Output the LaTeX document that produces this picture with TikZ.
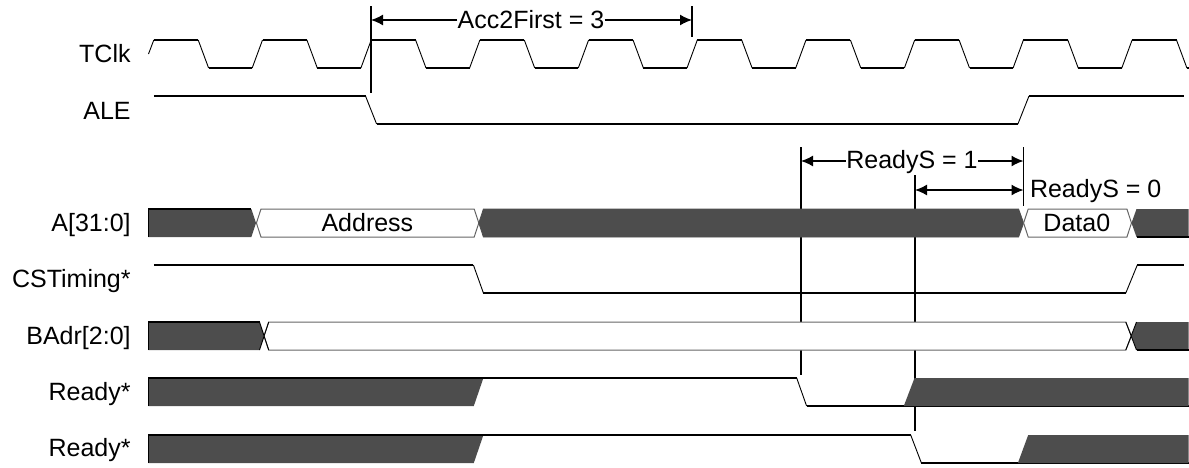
\documentclass[tikz,border=0pt]{standalone}
\usepackage{fontspec}
\setmainfont{Liberation Sans}
\usetikzlibrary{arrows.meta}

\definecolor{busdark}{HTML}{4D4D4D}
\tikzset{
  siglabel/.style={anchor=base east,inner sep=0pt,font=\fontsize{12.5}{15}\selectfont},
  dimlabel/.style={anchor=base,inner sep=0pt,font=\fontsize{12.5}{15}\selectfont},
  sigline/.style={line width=.8pt,line join=miter},
  edgeline/.style={line width=.45pt},
  markline/.style={line width=.8pt},
  dimarrow/.style={line width=.7pt,-{Latex[length=6pt,width=5.5pt]}},
  dimboth/.style={line width=.7pt,{Latex[length=6pt,width=5.5pt]}-{Latex[length=6pt,width=5.5pt]}},
  busdarkbox/.style={fill=busdark,draw=busdark,line width=.4pt},
  buswhite/.style={fill=white,draw=black!60,line width=.5pt}
}

\begin{document}
\begin{tikzpicture}[x=.5pt,y=-.5pt]
  \useasboundingbox (0,0) rectangle (1189,467);

  % signal names
  \node[siglabel] (tclk)  at (131,62.3)  {TClk};
  \node[siglabel] (ale)   at (131,119.3) {ALE};
  \node[siglabel] (addr)  at (131,231.7) {A[31:0]};
  \node[siglabel] (cst)   at (131,287.3) {CSTiming*};
  \node[siglabel] (badr)  at (131,344)   {BAdr[2:0]};
  \node[siglabel] (rdya)  at (131,400)   {Ready*};
  \node[siglabel] (rdyb)  at (131,456.7) {Ready*};

  % marker lines go under the buses
  \coordinate (m1t) at (371,6);     \coordinate (m1b) at (371,92.5);
  \coordinate (m2t) at (692,6);     \coordinate (m2b) at (692,36.5);
  \coordinate (m3t) at (801,147);   \coordinate (m3b) at (801,375);
  \coordinate (m4t) at (915,175);   \coordinate (m4b) at (915,431);
  \coordinate (m5t) at (1023.5,147);\coordinate (m5b) at (1023.5,206);
  \foreach \m in {1,...,5}
    \draw[markline] (m\m t) -- (m\m b);

  % TClk
  \draw[edgeline] (148.5,54) -- (153.8,40);
  \foreach \k in {0,...,9}
    {
      \pgfmathsetmacro{\xa}{153.8+108.7*\k}
      \draw[sigline] (\xa,40) -- (\xa+44.4,40);
      \draw[edgeline] (\xa+44.4,40) -- (\xa+54.8,68);
      \draw[sigline] (\xa+54.8,68) -- (\xa+98.4,68);
      \ifnum\k<9
        \draw[edgeline] (\xa+98.4,68) -- (\xa+108.7,40);
      \fi
    }

  % ALE
  \draw[sigline] (153.8,96) -- (365.5,96);
  \draw[edgeline] (365.5,96) -- (376.6,124);
  \draw[sigline] (376.6,124) -- (1017.9,124);
  \draw[edgeline] (1017.9,124) -- (1029,96);
  \draw[sigline] (1029,96) -- (1184,96);

  % A[31:0]
  \fill[busdark] (148.5,209) -- (251.4,209) -- (256,223) -- (251.4,237) -- (148.5,237) -- cycle;
  \draw[line width=.75pt] (148.5,237) -- (148.5,209) -- (251.4,209);
  \draw[buswhite] (261,209) -- (474.2,209) -- (478.8,223) -- (474.2,237) -- (261,237) -- (256.4,223) -- cycle;
  \node[dimlabel] (addrval) at (367.4,231.7) {Address};
  \draw[busdarkbox] (483.4,209) -- (1018.6,209) -- (1023.6,223) -- (1018.6,237) -- (483.4,237) -- (478.8,223) -- cycle;
  \draw[buswhite] (1028.2,209) -- (1126.9,209) -- (1131.5,223) -- (1126.9,237) -- (1028.2,237) -- (1023.6,223) -- cycle;
  \node[dimlabel] (dataval) at (1076.8,231.7) {Data0};
  \fill[busdark] (1136.5,209) -- (1188.5,209) -- (1188.5,237) -- (1136.5,237) -- (1131.5,223) -- cycle;
  \draw[sigline] (1136.5,237) -- (1188.5,237);

  % CSTiming*
  \draw[sigline] (153.8,265) -- (473.4,265);
  \draw[edgeline] (473.4,265) -- (483.4,293);
  \draw[sigline] (483.4,293) -- (1125.8,293);
  \draw[edgeline] (1125.8,293) -- (1137.3,265);
  \draw[sigline] (1137.3,265) -- (1184,265);

  % BAdr[2:0]
  \fill[busdark] (148.5,322) -- (259.5,322) -- (264,336) -- (259.5,350) -- (148.5,350) -- cycle;
  \draw[line width=.75pt] (148.5,350) -- (148.5,322) -- (259.5,322);
  \draw[buswhite] (268.7,322) -- (1125.8,322) -- (1131.5,336) -- (1125.8,350) -- (268.7,350) -- (264,336) -- cycle;
  \draw[edgeline] (259.5,322) -- (268.7,350) (259.5,350) -- (268.7,322);
  \fill[busdark] (1136.5,322) -- (1188.5,322) -- (1188.5,350) -- (1136.5,350) -- (1131.5,336) -- cycle;
  \draw[edgeline] (1125.8,322) -- (1136.5,350) (1125.8,350) -- (1136.5,322);
  \draw[sigline] (1136.5,350) -- (1188.5,350);

  % Ready*
  \fill[busdark] (148.5,378) -- (483.4,378) -- (473.8,406) -- (148.5,406) -- cycle;
  \draw[line width=.75pt] (148.5,406) -- (148.5,378) -- (796.7,378);
  \draw[edgeline] (796.7,378) -- (806.6,406);
  \draw[sigline] (806.6,406) -- (1188.5,406);
  \fill[busdark] (903.8,406) -- (914.5,378) -- (1188.5,378) -- (1188.5,406) -- cycle;

  % Ready* again
  \fill[busdark] (148.5,435) -- (483.4,435) -- (473.8,463) -- (148.5,463) -- cycle;
  \draw[line width=.75pt] (148.5,463) -- (148.5,435) -- (910.7,435);
  \draw[edgeline] (910.7,435) -- (921.4,463);
  \draw[sigline] (921.4,463) -- (1188.5,463);
  \fill[busdark] (1017.9,463) -- (1028.2,435) -- (1188.5,435) -- (1188.5,463) -- cycle;

  % dimensions
  \coordinate (a1) at (371,20);     \coordinate (a2) at (692,20);
  \coordinate (b1) at (801,161);    \coordinate (b2) at (1023.5,161);
  \coordinate (c1) at (915,190);    \coordinate (c2) at (1023.5,190);
  \node[dimlabel] (accfirst) at (531,28.3)  {Acc2First = 3};
  \node[dimlabel] (readyone) at (912,168.3) {ReadyS = 1};
  \node[dimlabel] (readyzero) at (1095.7,197.3) {ReadyS = 0};
  \draw[dimarrow] (accfirst.west |- a1) -- (a1);
  \draw[dimarrow] (accfirst.east |- a2) -- (a2);
  \draw[dimarrow] (readyone.west |- b1) -- (b1);
  \draw[dimarrow] (readyone.east |- b2) -- (b2);
  \draw[dimboth] (c1) -- (c2);
\end{tikzpicture}
\end{document}
